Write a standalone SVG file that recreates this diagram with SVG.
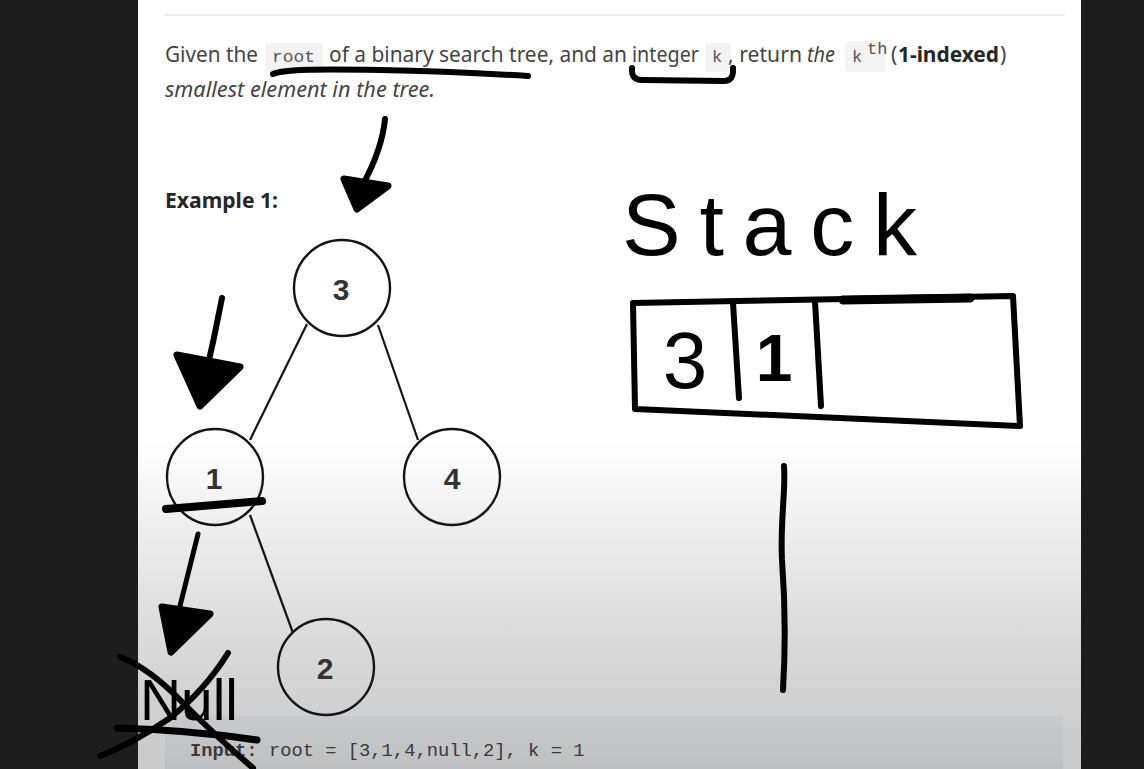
<svg xmlns="http://www.w3.org/2000/svg" width="1144" height="769" viewBox="0 0 1144 769">
<defs>
<linearGradient id="pageBg" x1="0" y1="0" x2="0" y2="769" gradientUnits="userSpaceOnUse">
<stop offset="0" stop-color="#ffffff"/>
<stop offset="0.57" stop-color="#ffffff"/>
<stop offset="0.79" stop-color="#dfdfdf"/>
<stop offset="0.93" stop-color="#cfcfcf"/>
<stop offset="1" stop-color="#c9c9c9"/>
</linearGradient>
<linearGradient id="codeBg" x1="0" y1="716" x2="0" y2="769" gradientUnits="userSpaceOnUse">
<stop offset="0" stop-color="#c8c9cb"/>
<stop offset="1" stop-color="#bfc0c2"/>
</linearGradient>
<style>
.txt{font-family:"Noto Sans","Open Sans","Liberation Sans",sans-serif;font-size:21px;fill:#444}
.it{font-style:italic}
.bd{font-weight:bold;fill:#262626}
.code{font-family:"Liberation Mono","DejaVu Sans Mono",monospace;font-size:17px;fill:#555}
.codebg{fill:#f3f3f4}
.node circle{fill:none;stroke:#141414;stroke-width:2.4}
.node text{font-family:"Liberation Sans",Arial,sans-serif;font-weight:bold;font-size:30px;fill:#333;text-anchor:middle}
.edge{stroke:#141414;stroke-width:2.2;fill:none}
.ink{stroke:#000;fill:none;stroke-linecap:round;stroke-linejoin:round}
.head{stroke:#000;fill:#000;stroke-width:7;stroke-linejoin:round}
.hand{font-family:"Liberation Sans","DejaVu Sans",sans-serif;fill:#000}
</style>
</defs>
<!-- backdrop -->
<rect x="0" y="0" width="1144" height="769" fill="#1d1d1d"/>
<rect x="138" y="0" width="943" height="769" fill="url(#pageBg)"/>
<rect x="165" y="14" width="900" height="2" fill="#ececec"/>
<rect x="165" y="716" width="898" height="60" fill="url(#codeBg)"/>

<!-- problem statement -->
<g id="statement">
<rect class="codebg" x="265" y="43" width="58" height="29" rx="4"/>
<rect class="codebg" x="705" y="43" width="26" height="29" rx="4"/>
<rect class="codebg" x="845" y="41" width="40" height="31" rx="4"/>
<text class="txt" x="165" y="62" textLength="93" lengthAdjust="spacingAndGlyphs">Given the</text>
<text class="code" x="272" y="62" textLength="43" lengthAdjust="spacingAndGlyphs">root</text>
<text class="txt" x="329" y="62" textLength="298" lengthAdjust="spacingAndGlyphs">of a binary search tree, and an</text>
<text class="txt" x="632" y="62" textLength="67" lengthAdjust="spacingAndGlyphs">integer</text>
<text class="code" x="712" y="62">k</text>
<text class="txt" x="728" y="62" textLength="74" lengthAdjust="spacingAndGlyphs">, return</text>
<text class="txt it" x="807" y="62" textLength="28" lengthAdjust="spacingAndGlyphs">the</text>
<text class="code" x="852" y="62">k</text>
<text class="code" x="867" y="54" font-size="12">th</text>
<text class="txt" x="891" y="62">(</text>
<text class="txt bd" x="898" y="62" textLength="101" lengthAdjust="spacingAndGlyphs">1-indexed</text>
<text class="txt" x="1000" y="62">)</text>
<text class="txt it" x="165" y="97" textLength="270" lengthAdjust="spacingAndGlyphs">smallest element in the tree.</text>
<text class="txt bd" x="165" y="208" textLength="113" lengthAdjust="spacingAndGlyphs">Example 1:</text>
</g>

<!-- tree connectors -->
<g id="connectors">
<line class="edge" x1="307" y1="324" x2="250" y2="440"/>
<line class="edge" x1="378" y1="325" x2="418" y2="440"/>
<line class="edge" x1="250" y1="515" x2="293" y2="633"/>
</g>

<!-- tree nodes -->
<g id="node-3" class="node"><circle cx="342" cy="288" r="48"/><text x="341" y="300">3</text></g>
<g id="node-1" class="node"><circle cx="215" cy="477" r="48"/><text x="214" y="489">1</text></g>
<g id="node-4" class="node"><circle cx="452" cy="477" r="48"/><text x="452" y="489">4</text></g>
<g id="node-2" class="node"><circle cx="326" cy="667" r="48"/><text x="325" y="679">2</text></g>

<!-- code line -->
<g id="input">
<text x="190" y="756" font-family="Liberation Mono,DejaVu Sans Mono,monospace" font-size="18.8" fill="#3a3a3a"><tspan font-weight="bold">Input:</tspan> root = [3,1,4,null,2], k = 1</text>
</g>

<!-- handwritten annotations -->
<g id="annotations">
<path class="ink" stroke-width="6" d="M273,74 C285,69 320,69 380,70 S480,73 528,76"/>
<path class="ink" stroke-width="6" d="M632,68 Q631,80 642,80 L724,81 Q734,81 733,68"/>
<!-- arrow to root -->
<path class="ink" stroke-width="6" d="M385,119 Q382,150 362,186"/>
<path class="head" d="M344,179 L388,186 L357,209 Z"/>
<!-- arrow to node 1 -->
<path class="ink" stroke-width="6" d="M222,298 Q214,340 204,382"/>
<path class="head" d="M177,355 L240,367 L200,406 Z"/>
<!-- underline node 1 -->
<path class="ink" stroke-width="8" d="M166,509 L262,501"/>
<!-- arrow below node 1 -->
<path class="ink" stroke-width="5" d="M198,534 L174,630"/>
<path class="head" stroke-width="6" d="M162,607 L210,614 L171,652 Z"/>
<!-- crossed out Null -->
<text class="hand" x="140" y="720" font-size="58" textLength="98" lengthAdjust="spacingAndGlyphs">Null</text>
<path class="ink" stroke-width="6" d="M120,657 Q150,668 185,705 Q220,740 253,768"/>
<path class="ink" stroke-width="6" d="M228,653 Q205,690 170,718 Q135,742 100,756"/>
<path class="ink" stroke-width="7" d="M117,728 Q190,730 257,740"/>
</g>

<!-- stack drawing -->
<g id="stack">
<text class="hand" x="622" y="255" font-size="88" textLength="295" lengthAdjust="spacing">Stack</text>
<path class="ink" stroke-width="6" d="M633,303 L1013,296 L1020,426 L635,409 Z"/>
<path class="ink" stroke-width="9" d="M843,300 L970,298"/>
<path class="ink" stroke-width="6" d="M733,303 L739,398"/>
<path class="ink" stroke-width="6" d="M815,301 L821,406"/>
<text class="hand" x="685" y="388" font-size="80" text-anchor="middle">3</text>
<text class="hand" x="774" y="381" font-size="66" text-anchor="middle" font-weight="bold">1</text>
<path class="ink" stroke-width="6" d="M784,466 C786,490 780,520 782,560 C785,600 786,640 783,690"/>
</g>
</svg>
